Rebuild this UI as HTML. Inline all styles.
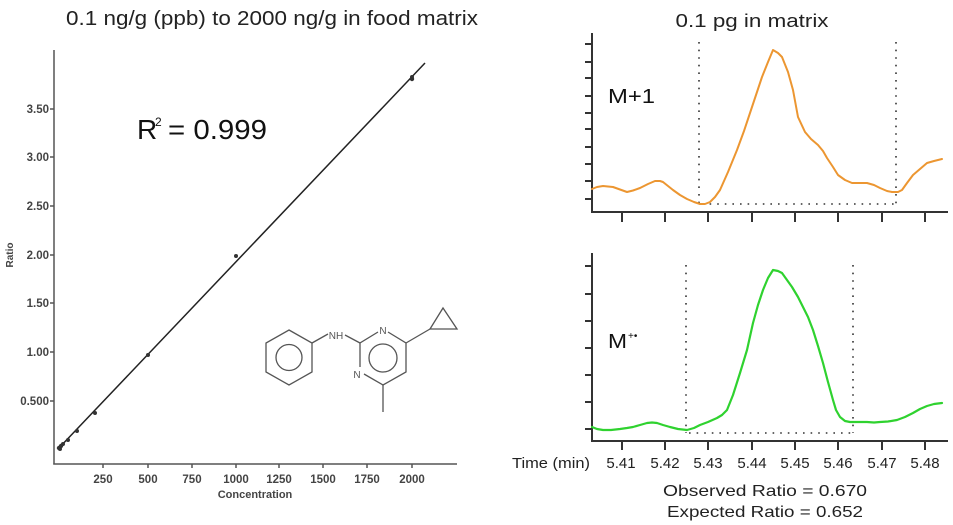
<!DOCTYPE html>
<html><head><meta charset="utf-8"><style>
html,body{margin:0;padding:0;background:#fff;}
svg{display:block;}
text{font-family:"Liberation Sans",sans-serif;}
</style></head><body>
<svg width="953" height="525" viewBox="0 0 953 525" xmlns="http://www.w3.org/2000/svg">
<rect width="953" height="525" fill="#fff"/>
<!-- Left chart -->
<text x="66" y="25" font-size="20" fill="#222" textLength="412" lengthAdjust="spacingAndGlyphs">0.1 ng/g (ppb) to 2000 ng/g in food matrix</text>
<g stroke="#555" stroke-width="1.5" fill="none">
<line x1="54" y1="50" x2="54" y2="464.5"/>
<line x1="53.3" y1="464" x2="457" y2="464"/>
<line x1="50" y1="109" x2="54" y2="109"/>
<line x1="50" y1="157" x2="54" y2="157"/>
<line x1="50" y1="206" x2="54" y2="206"/>
<line x1="50" y1="255" x2="54" y2="255"/>
<line x1="50" y1="303" x2="54" y2="303"/>
<line x1="50" y1="352" x2="54" y2="352"/>
<line x1="50" y1="401" x2="54" y2="401"/>
<line x1="103" y1="464" x2="103" y2="468"/>
<line x1="148" y1="464" x2="148" y2="468"/>
<line x1="192" y1="464" x2="192" y2="468"/>
<line x1="236" y1="464" x2="236" y2="468"/>
<line x1="279" y1="464" x2="279" y2="468"/>
<line x1="323" y1="464" x2="323" y2="468"/>
<line x1="367" y1="464" x2="367" y2="468"/>
<line x1="412" y1="464" x2="412" y2="468"/>
</g>
<g font-size="11.5" font-weight="bold" fill="#444" text-anchor="end">
<text x="49" y="113">3.50</text>
<text x="49" y="161">3.00</text>
<text x="49" y="210">2.50</text>
<text x="49" y="259">2.00</text>
<text x="49" y="307">1.50</text>
<text x="49" y="356">1.00</text>
<text x="49" y="405">0.500</text>
</g>
<g font-size="11.5" font-weight="bold" fill="#444" text-anchor="middle">
<text x="103" y="483">250</text>
<text x="148" y="483">500</text>
<text x="192" y="483">750</text>
<text x="236" y="483">1000</text>
<text x="279" y="483">1250</text>
<text x="323" y="483">1500</text>
<text x="367" y="483">1750</text>
<text x="412" y="483">2000</text>
<text x="255" y="498" font-size="11">Concentration</text>
<text transform="translate(13,255) rotate(-90)" font-size="10">Ratio</text>
</g>
<line x1="58" y1="449" x2="425" y2="63" stroke="#222" stroke-width="1.5"/>
<g fill="#333">
<circle cx="412" cy="79" r="2.2"/><circle cx="412" cy="77" r="2"/>
<circle cx="236" cy="256" r="2"/>
<circle cx="148" cy="355" r="2"/>
<circle cx="95" cy="413" r="2"/>
<circle cx="77" cy="431" r="2"/>
<circle cx="68" cy="440" r="2"/>
<circle cx="63" cy="444" r="2"/>
<circle cx="61" cy="446" r="2.2"/>
<circle cx="59" cy="448" r="2.2"/>
<circle cx="60" cy="449" r="2"/>
</g>
<text x="137" y="139" font-size="28" fill="#111">R</text>
<text x="155" y="126" font-size="12" fill="#111">2</text>
<text x="168" y="139" font-size="28" fill="#111" textLength="99" lengthAdjust="spacingAndGlyphs">= 0.999</text>
<!-- Molecule -->
<g stroke="#555" stroke-width="1.3" fill="none">
<polygon points="289,330 312,343 312,372 289,385 266,372 266,343"/>
<circle cx="289" cy="357.5" r="13"/>
<line x1="312" y1="343" x2="328" y2="334"/>
<line x1="345" y1="335" x2="360" y2="343"/>
<polyline points="378,332 360,343 360,367"/>
<polyline points="388,332 406,343 406,372 383,385 364,374"/>
<circle cx="383" cy="358" r="14"/>
<line x1="383" y1="385" x2="383" y2="412"/>
<line x1="406" y1="343" x2="430" y2="329"/>
<polygon points="430,329 443,308 457,329"/>
</g>
<g font-size="10" fill="#555" text-anchor="middle">
<text x="336" y="339">NH</text>
<text x="383" y="334">N</text>
<text x="357" y="378">N</text>
</g>
<!-- Right titles -->
<text x="752" y="27" font-size="18" fill="#222" text-anchor="middle" textLength="153" lengthAdjust="spacingAndGlyphs">0.1 pg in matrix</text>
<!-- Top chromatogram -->
<g stroke="#333" stroke-width="2" fill="none">
<line x1="592" y1="33" x2="592" y2="213"/>
<line x1="591" y1="212" x2="948" y2="212"/>
<line x1="585" y1="44" x2="592" y2="44"/>
<line x1="585" y1="62" x2="592" y2="62"/>
<line x1="585" y1="78" x2="592" y2="78"/>
<line x1="585" y1="96" x2="592" y2="96"/>
<line x1="585" y1="113" x2="592" y2="113"/>
<line x1="585" y1="129" x2="592" y2="129"/>
<line x1="585" y1="147" x2="592" y2="147"/>
<line x1="585" y1="164" x2="592" y2="164"/>
<line x1="585" y1="181" x2="592" y2="181"/>
<line x1="585" y1="199" x2="592" y2="199"/>
<line x1="622" y1="212" x2="622" y2="222"/>
<line x1="665" y1="212" x2="665" y2="222"/>
<line x1="708" y1="212" x2="708" y2="222"/>
<line x1="752" y1="212" x2="752" y2="222"/>
<line x1="795" y1="212" x2="795" y2="222"/>
<line x1="838" y1="212" x2="838" y2="222"/>
<line x1="882" y1="212" x2="882" y2="222"/>
<line x1="925" y1="212" x2="925" y2="222"/>
</g>
<g stroke="#333" stroke-width="1.6" stroke-dasharray="1.6 6" fill="none">
<line x1="699" y1="42" x2="699" y2="204"/>
<line x1="896" y1="42" x2="896" y2="204"/>
<line x1="702" y1="204" x2="896" y2="204"/>
</g>
<polyline fill="none" stroke="#ec9631" stroke-width="2" stroke-linejoin="round" stroke-linecap="round"
points="592,189 597,187 603,186 608,186.5 613,187 620,189.5 627,192 633,190.5 640,188 648,184 655,181 660,181 663,182 668,186 673,190 680,195 687,199 694,202 700,204 705,204 710,202 715,197 720,190 728,172 737,150 744,131 750,113 756,95 762,77 768,62 773,50 778,53 782,57 788,72 793,90 798,117 805,132 811,139 818,145 823,151 827,158 833,167 838,175 845,180 852,183 860,183 867,183 874,185 880,188 887,191 892,192 898,192 902,190 907,183 913,175 920,169 927,163 934,161 942,159"/>
<text x="608" y="103" font-size="20" fill="#111" textLength="47" lengthAdjust="spacingAndGlyphs">M+1</text>
<!-- Bottom chromatogram -->
<g stroke="#333" stroke-width="2" fill="none">
<line x1="592" y1="253" x2="592" y2="442"/>
<line x1="591" y1="441" x2="948" y2="441"/>
<line x1="585" y1="266" x2="592" y2="266"/>
<line x1="585" y1="294" x2="592" y2="294"/>
<line x1="585" y1="321" x2="592" y2="321"/>
<line x1="585" y1="348" x2="592" y2="348"/>
<line x1="585" y1="375" x2="592" y2="375"/>
<line x1="585" y1="402" x2="592" y2="402"/>
<line x1="585" y1="429" x2="592" y2="429"/>
<line x1="622" y1="441" x2="622" y2="450"/>
<line x1="665" y1="441" x2="665" y2="450"/>
<line x1="708" y1="441" x2="708" y2="450"/>
<line x1="752" y1="441" x2="752" y2="450"/>
<line x1="795" y1="441" x2="795" y2="450"/>
<line x1="838" y1="441" x2="838" y2="450"/>
<line x1="882" y1="441" x2="882" y2="450"/>
<line x1="925" y1="441" x2="925" y2="450"/>
</g>
<g stroke="#333" stroke-width="1.6" stroke-dasharray="1.6 6" fill="none">
<line x1="686" y1="265" x2="686" y2="433"/>
<line x1="853" y1="265" x2="853" y2="433"/>
<line x1="689" y1="433" x2="853" y2="433"/>
</g>
<polyline fill="none" stroke="#2fd22f" stroke-width="2.2" stroke-linejoin="round" stroke-linecap="round"
points="592,427 597,429 603,430 611,430 620,429 627,428 633,427 640,425 647,423 652,422.5 657,423 663,425 670,427 678,429 687,430 694,428 700,425 708,422 717,418 722,415 727,410 733,395 740,373 747,350 753,323 758,305 763,290 768,278 773,270 778,271 782,273 787,280 792,287 798,297 803,307 808,317 813,330 818,346 823,363 828,382 833,400 836,410 840,417 845,421 850,422 858,422 867,422 874,422.5 880,422 888,421.5 897,420 905,417 913,413 920,409 927,406 934,404 942,403"/>
<text x="608" y="348" font-size="20" fill="#111" textLength="19" lengthAdjust="spacingAndGlyphs">M</text>
<text x="628" y="339" font-size="10" fill="#111">+•</text>
<!-- Labels -->
<g font-size="15" fill="#222">
<text x="512" y="468" textLength="78" lengthAdjust="spacingAndGlyphs">Time (min)</text>
<g text-anchor="middle">
<text x="621" y="468">5.41</text>
<text x="665" y="468">5.42</text>
<text x="708" y="468">5.43</text>
<text x="752" y="468">5.44</text>
<text x="795" y="468">5.45</text>
<text x="838" y="468">5.46</text>
<text x="882" y="468">5.47</text>
<text x="925" y="468">5.48</text>
</g>
</g>
<g font-size="16" fill="#222" text-anchor="middle">
<text x="765" y="496" textLength="204" lengthAdjust="spacingAndGlyphs">Observed Ratio = 0.670</text>
<text x="765" y="517" textLength="196" lengthAdjust="spacingAndGlyphs">Expected Ratio = 0.652</text>
</g>
</svg>
</body></html>
